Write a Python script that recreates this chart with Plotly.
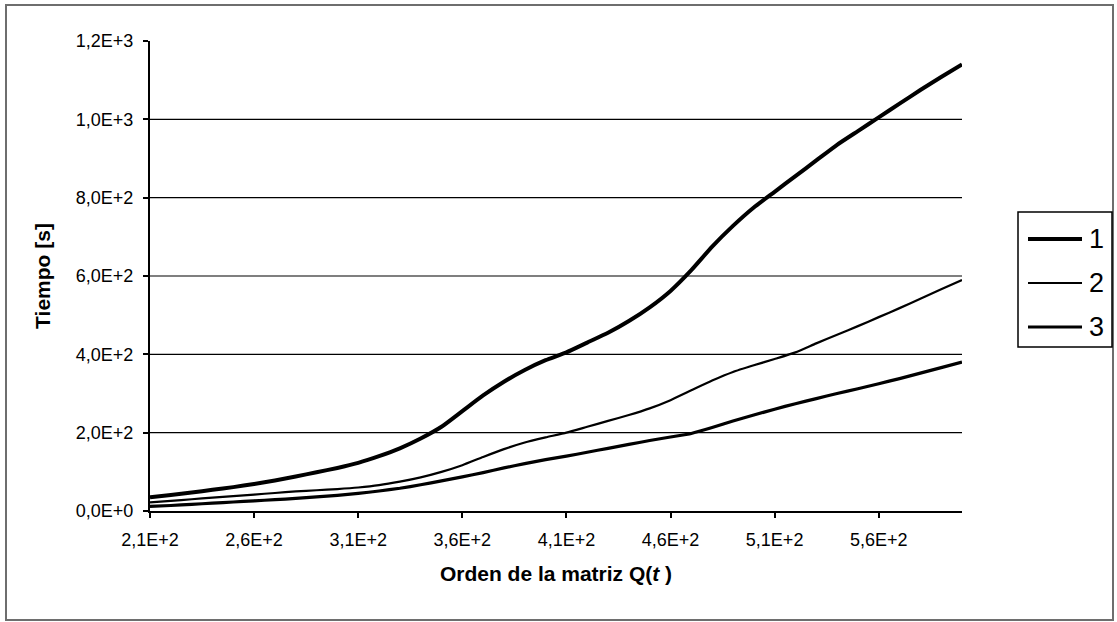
import plotly.graph_objects as go

# Orden de la matriz Q(t)
orden = [210, 220, 230, 240, 250, 260, 270, 280, 290, 300,
         310, 320, 330, 340, 350, 360, 370, 380, 390, 400,
         410, 420, 430, 440, 450, 460, 470, 480, 490, 500,
         510, 520, 530, 540, 550, 560, 570, 580, 590, 600]

# Tiempo [s] para cada caso
tiempo_1 = [35, 41, 47, 54, 61, 69, 78, 88, 99, 110,
            123, 140, 160, 185, 215, 255, 295, 330, 360, 385,
            405, 430, 455, 485, 520, 562, 615, 675, 728, 775,
            815, 855, 895, 935, 970, 1005, 1040, 1075, 1108, 1140]
tiempo_2 = [22, 26, 30, 34, 38, 42, 46, 50, 53, 56,
            60, 66, 75, 86, 100, 117, 138, 158, 175, 188,
            200, 215, 230, 245, 262, 283, 308, 333, 355, 372,
            388, 405, 428, 450, 472, 495, 518, 542, 566, 590]
tiempo_3 = [12, 14, 17, 20, 23, 26, 29, 32, 36, 40,
            45, 51, 58, 67, 77, 87, 98, 110, 121, 131,
            140, 150, 160, 170, 180, 189, 198, 213, 230, 245,
            260, 274, 287, 300, 312, 325, 338, 352, 366, 380]

x_ticks = [210, 260, 310, 360, 410, 460, 510, 560]
x_tick_text = ["2,1E+2", "2,6E+2", "3,1E+2", "3,6E+2",
               "4,1E+2", "4,6E+2", "5,1E+2", "5,6E+2"]
y_ticks = [0, 200, 400, 600, 800, 1000, 1200]
y_tick_text = ["0,0E+0", "2,0E+2", "4,0E+2", "6,0E+2",
               "8,0E+2", "1,0E+3", "1,2E+3"]

series_names = ["1", "2", "3"]
series_vals = [tiempo_1, tiempo_2, tiempo_3]
line_widths = [4.0, 2.2, 3.2]

FONT = "Liberation Sans, Arial, sans-serif"

fig = go.Figure()
for name, vals, w in zip(series_names, series_vals, line_widths):
    fig.add_trace(go.Scatter(
        x=orden, y=vals, name=name, mode="lines", showlegend=False,
        line=dict(color="black", width=w, shape="spline", smoothing=0.5),
    ))

W, H = 1117, 622
L, R, T, B = 150, 155, 41, 111
pw, ph = W - L - R, H - T - B


def px_x(p):
    return (p - L) / pw


def px_y(p):
    return (H - B - p) / ph


shapes = []
annotations = []

# horizontal gridlines (none at the top edge)
for v in y_ticks[1:-1]:
    shapes.append(dict(type="line", xref="paper", yref="y", x0=0, x1=1,
                       y0=v, y1=v, line=dict(color="black", width=1.2),
                       layer="below"))

# outer chart frame
shapes.append(dict(type="rect", xref="paper", yref="paper",
                   x0=px_x(6), x1=px_x(1113), y0=px_y(620), y1=px_y(5),
                   line=dict(color="#6e6e6e", width=2)))

# legend box with line samples and labels
leg_left, leg_right, leg_top, leg_bottom = 1018, 1112, 212, 347
shapes.append(dict(type="rect", xref="paper", yref="paper",
                   x0=px_x(leg_left), x1=px_x(leg_right),
                   y0=px_y(leg_bottom), y1=px_y(leg_top),
                   line=dict(color="black", width=1.5), fillcolor="white"))
item_y = [239, 283, 327]
for name, w, yy in zip(series_names, line_widths, item_y):
    shapes.append(dict(type="line", xref="paper", yref="paper",
                       x0=px_x(1028), x1=px_x(1082), y0=px_y(yy), y1=px_y(yy),
                       line=dict(color="black", width=w)))
    annotations.append(dict(xref="paper", yref="paper", x=px_x(1087), y=px_y(yy),
                            text=name, showarrow=False, xanchor="left",
                            yanchor="middle",
                            font=dict(family=FONT, size=27, color="black")))

fig.update_layout(
    width=W, height=H,
    margin=dict(l=L, r=R, t=T, b=B),
    paper_bgcolor="white", plot_bgcolor="white",
    font=dict(family=FONT, color="black", size=18),
    shapes=shapes,
    annotations=annotations,
    showlegend=False,
    xaxis=dict(
        range=[210, 600], tickmode="array", tickvals=x_ticks, ticktext=x_tick_text,
        showgrid=False, zeroline=False, showline=True, linecolor="black", linewidth=2,
        ticks="outside", ticklen=5, tickwidth=1.5, tickcolor="black",
        tickfont=dict(size=18), ticklabelstandoff=6,
        title=dict(text="<b>Orden de la matriz Q(<i>t</i> )</b>",
                   font=dict(size=21), standoff=18),
    ),
    yaxis=dict(
        range=[0, 1200], tickmode="array", tickvals=y_ticks, ticktext=y_tick_text,
        showgrid=False, zeroline=False, showline=True, linecolor="black", linewidth=2,
        ticks="outside", ticklen=5, tickwidth=1.5, tickcolor="black",
        tickfont=dict(size=18), ticklabelstandoff=6,
        title=dict(text="<b>Tiempo [s]</b>", font=dict(size=21), standoff=19),
    ),
)

fig.write_html("out.html")
